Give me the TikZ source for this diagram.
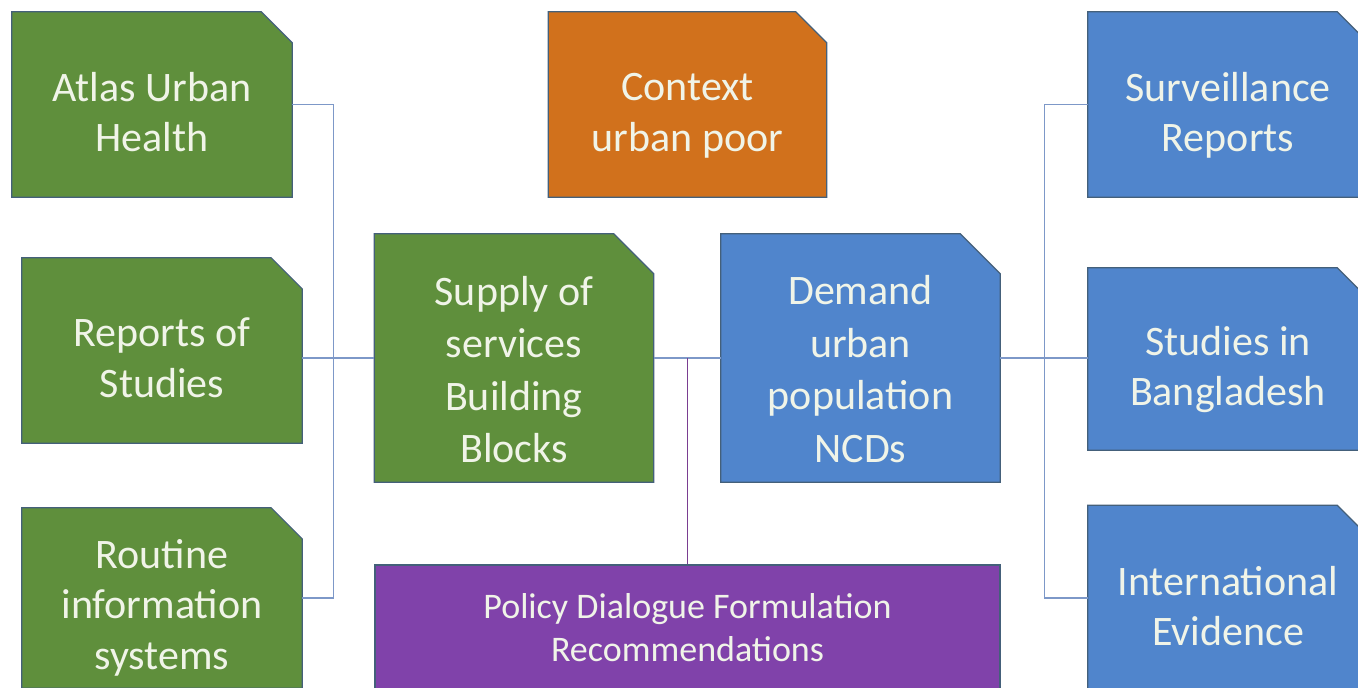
\documentclass[tikz,border=0pt]{standalone}
\usepackage{fontspec}
\setmainfont{Carlito}
\definecolor{ugreen}{RGB}{95,143,60}
\definecolor{ublue}{RGB}{80,133,204}
\definecolor{uorange}{RGB}{209,113,28}
\definecolor{upurple}{RGB}{128,66,170}
\definecolor{uedge}{RGB}{68,96,122}
\definecolor{ulink}{RGB}{125,152,200}
\definecolor{ulinkp}{RGB}{122,62,145}
\definecolor{utext}{RGB}{240,244,232}
\tikzset{
  snip/.style={inner sep=0pt, minimum width=280pt, minimum height=185pt},
  bigsnip/.style={snip, minimum width=279pt, minimum height=248pt},
  lbl/.style={text=utext, align=center, inner sep=0pt, text depth=0pt, font=\fontsize{42}{50.5}\selectfont},
  biglbl/.style={lbl, font=\fontsize{42}{52.5}\selectfont},
  link/.style={ulink, line width=1.1pt},
}
\begin{document}
\begin{tikzpicture}[x=1pt,y=-1pt]
\useasboundingbox (0,0) rectangle (1358,688);
\clip (0,0) rectangle (1358,688);
\fill[white] (0,0) rectangle (1358,688);

% boxes
\node (atlas) at (152,104.5)[snip]{};
\node (reports) at (162,350.5)[snip]{};
\node (routine) at (162,598)[snip,minimum height=180pt]{};
\node (context) at (687.5,104.5)[snip,minimum width=278pt]{};
\node (supply) at (514,358)[bigsnip]{};
\node (demand) at (860.5,358)[bigsnip]{};
\node (surv) at (1228,104.5)[snip]{};
\node (studies) at (1228,359)[snip,minimum height=182pt]{};
\node (intl) at (1228,598)[snip]{};

% snipped corners
\foreach \n/\c/\s in {atlas/ugreen/31,reports/ugreen/31,routine/ugreen/31,context/uorange/31,
    supply/ugreen/40,demand/ublue/40,surv/ublue/31,studies/ublue/31,intl/ublue/31}
{
    \filldraw[fill=\c,draw=uedge,line width=1.2pt] (\n.north west)--([xshift=-\s pt]\n.north east)
      --([yshift=-\s pt]\n.north east)--(\n.south east)--(\n.south west)--cycle;
}

% texts
\node (atlas-t) at ([yshift=-7.5pt]atlas.center)[lbl]{Atlas Urban\\Health};
\node (reports-t) at ([yshift=-7pt]reports.center)[lbl]{Reports of\\Studies};
\node (routine-t) at ([yshift=-6pt]routine.center)[lbl]{Routine\\information\\systems};
\node (context-t) at ([yshift=-8pt]context.center)[lbl]{Context\\urban poor};
\node (supply-t) at ([yshift=-11.5pt]supply.center)[biglbl]{Supply of\\services\\Building\\Blocks};
\node (demand-t) at ([yshift=-11pt]demand.center)[biglbl]{Demand\\urban\\population\\NCDs};
\node (surv-t) at ([yshift=-7.5pt]surv.center)[lbl]{Surveillance\\Reports};
\node (studies-t) at ([yshift=-7pt]studies.center)[lbl]{Studies in\\Bangladesh};
\node (intl-t) at ([yshift=-8pt]intl.center)[lbl]{International\\Evidence};

\node (policy) at (687.5,627.5)[draw=uedge,line width=1.2pt,fill=upurple,text=utext,align=center,
  minimum width=625pt,minimum height=125pt,font=\fontsize{36}{43}\selectfont]{Policy Dialogue Formulation\\Recommendations};

% links
\draw[link] (atlas.east)--++(41,0)|-(routine.east);
\draw[link] (reports.east|-supply.west)--(supply.west);
\draw[link] (supply.east)--(demand.west);
\draw[link] (surv.west)--++(-43,0)|-(intl.west);
\draw[link] (demand.east)--(studies.west|-demand.east);
\draw[ulinkp,line width=1.1pt] (policy.north)--(policy.north|-supply.east);

\end{tikzpicture}
\end{document}
